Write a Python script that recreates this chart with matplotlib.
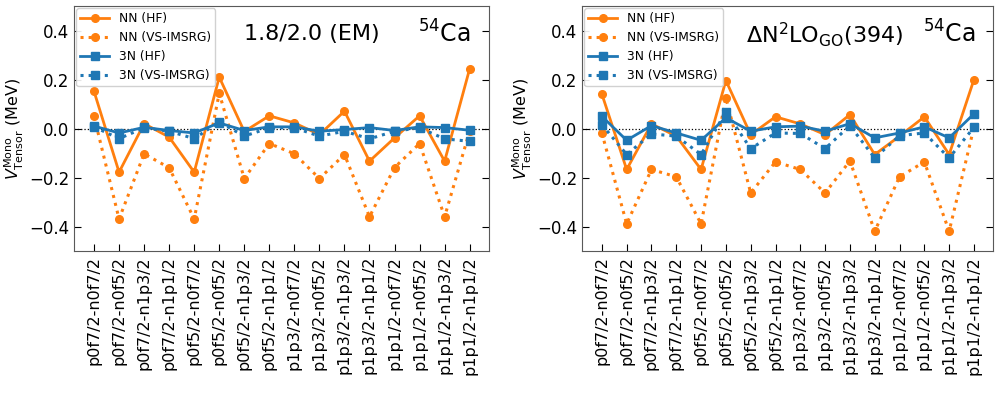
import numpy as np
import matplotlib
matplotlib.use("Agg")
import matplotlib.pyplot as plt

labels = ["p0f7/2-n0f7/2", "p0f7/2-n0f5/2", "p0f7/2-n1p3/2", "p0f7/2-n1p1/2",
          "p0f5/2-n0f7/2", "p0f5/2-n0f5/2", "p0f5/2-n1p3/2", "p0f5/2-n1p1/2",
          "p1p3/2-n0f7/2", "p1p3/2-n0f5/2", "p1p3/2-n1p3/2", "p1p3/2-n1p1/2",
          "p1p1/2-n0f7/2", "p1p1/2-n0f5/2", "p1p1/2-n1p3/2", "p1p1/2-n1p1/2"]

# 1.8/2.0 (EM)
em_nn_hf = [0.152, -0.178, 0.020, -0.035, -0.178, 0.210, -0.012, 0.052,
            0.023, -0.025, 0.071, -0.133, -0.038, 0.052, -0.133, 0.244]
em_nn_vs = [0.050, -0.369, -0.103, -0.160, -0.369, 0.144, -0.204, -0.061,
            -0.103, -0.204, -0.106, -0.360, -0.159, -0.061, -0.360, -0.010]
em_3n_hf = [0.010, -0.018, 0.005, -0.008, -0.018, 0.023, -0.008, 0.007,
            0.007, -0.011, -0.004, 0.004, -0.008, 0.007, 0.004, -0.007]
em_3n_vs = [0.007, -0.041, 0.003, -0.011, -0.041, 0.027, -0.031, 0.003,
            0.003, -0.031, -0.011, -0.042, -0.011, 0.003, -0.042, -0.052]

# DN2LO_GO(394)
go_nn_hf = [0.141, -0.167, 0.019, -0.031, -0.167, 0.196, -0.025, 0.048,
            0.019, -0.025, 0.057, -0.106, -0.031, 0.048, -0.106, 0.200]
go_nn_vs = [-0.018, -0.389, -0.167, -0.197, -0.389, 0.125, -0.263, -0.136,
            -0.167, -0.263, -0.132, -0.419, -0.197, -0.136, -0.419, 0.005]
go_3n_hf = [0.050, -0.048, 0.012, -0.018, -0.048, 0.044, -0.011, 0.007,
            0.010, -0.011, 0.020, -0.038, -0.018, 0.007, -0.038, 0.060]
go_3n_vs = [0.016, -0.106, -0.022, -0.031, -0.106, 0.068, -0.082, -0.018,
            -0.020, -0.082, 0.012, -0.120, -0.029, -0.018, -0.120, 0.005]

orange = "#ff7f0e"
blue = "#1f77b4"

fig = plt.figure(figsize=(10.04, 4.03), dpi=100)
ax1 = fig.add_axes([0.0737, 0.377, 0.4133, 0.608])
ax2 = fig.add_axes([0.5797, 0.377, 0.4094, 0.608])

x = np.arange(len(labels))

def panel(ax, nn_hf, nn_vs, n3_hf, n3_vs, title, tx):
    ax.axhline(0, color="k", ls=":", lw=0.9, zorder=1)
    ax.plot(x, nn_hf, "-o", color=orange, lw=2, ms=5.5, label="NN (HF)")
    ax.plot(x, nn_vs, ":o", color=orange, lw=2.2, ms=5.5, label="NN (VS-IMSRG)")
    ax.plot(x, n3_hf, "-s", color=blue, lw=2, ms=6, label="3N (HF)")
    ax.plot(x, n3_vs, ":s", color=blue, lw=2.2, ms=6, label="3N (VS-IMSRG)")
    ax.set_xlim(-0.8, 15.77)
    ax.set_ylim(-0.5, 0.5)
    ax.set_yticks([-0.4, -0.2, 0.0, 0.2, 0.4])
    ax.set_xticks(x)
    ax.set_xticklabels(labels, rotation=90, fontsize=11.5)
    ax.tick_params(axis="y", direction="in", right=True, labelsize=12, length=5)
    ax.tick_params(axis="x", direction="in", length=5)
    for s in ax.spines.values():
        s.set_color("0.35")
    ax.set_ylabel(r"$V^{\rm Mono}_{\rm Tensor}$ (MeV)", fontsize=11.5, labelpad=2)
    ax.text(tx, 0.385, title, fontsize=16, ha="center", va="center")
    ax.text(14.0, 0.385, r"$^{54}$Ca", fontsize=17, ha="center", va="center")
    ax.legend(loc="upper left", fontsize=8.8, borderaxespad=0.2,
              handlelength=2.4, labelspacing=0.5, borderpad=0.3, framealpha=0.9)

panel(ax1, em_nn_hf, em_nn_vs, em_3n_hf, em_3n_vs, "1.8/2.0 (EM)", 8.7)
panel(ax2, go_nn_hf, go_nn_vs, go_3n_hf, go_3n_vs,
      r"$\Delta$N$^2$LO$_{\rm GO}$(394)", 9.0)

fig.savefig("out.png", dpi=100)
